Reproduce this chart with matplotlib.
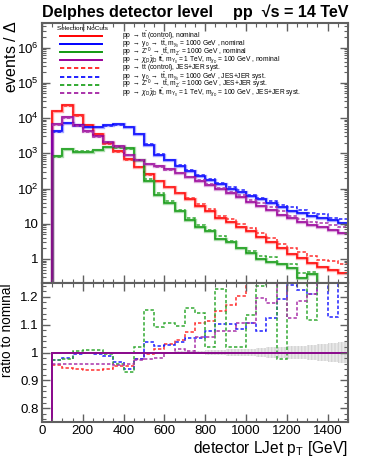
import numpy as np
import matplotlib
matplotlib.use("Agg")
import matplotlib.pyplot as plt
from matplotlib.ticker import MultipleLocator, FuncFormatter, LogLocator, NullFormatter

plt.rcParams['font.family'] = ['Liberation Sans', 'DejaVu Sans']
plt.rcParams['mathtext.fontset'] = 'custom'
plt.rcParams['mathtext.rm'] = 'Liberation Sans'
plt.rcParams['mathtext.it'] = 'Liberation Sans:italic'
plt.rcParams['mathtext.bf'] = 'Liberation Sans:bold'

# bin edges: 0 .. 1500 GeV, 50 GeV wide
edges = np.arange(0, 1501, 50)

# nominal histograms, log10(events) per bin (bin 0-50 is empty)
log_ttbar = [4.21, 4.375, 4.09, 3.81, 3.54, 3.30, 3.07, 2.83, 2.62, 2.40, 2.22, 2.03, 1.86, 1.70,
             1.51, 1.36, 1.17, 1.06, 0.90, 0.78, 0.62, 0.47, 0.30, 0.15, 0.02, -0.12, -0.22, -0.30, -0.40]
log_y0 = [3.62, 3.87, 3.79, 3.74, 3.76, 3.79, 3.82, 3.76, 3.55, 3.24, 2.96, 2.80, 2.64, 2.49,
          2.36, 2.24, 2.12, 1.99, 1.91, 1.78, 1.70, 1.59, 1.47, 1.37, 1.30, 1.21, 1.155, 1.11, 1.03]
log_zp = [2.92, 3.13, 3.05, 3.05, 3.09, 3.17, 3.18, 3.15, 2.81, 2.20, 1.82, 1.60, 1.35, 1.11,
          0.92, 0.80, 0.56, 0.49, 0.30, 0.17, 0.00, -0.08, -0.13, -0.27, -0.53, -0.43, -1.0, -1.0, -1.0]
log_dm = [3.83, 4.02, 3.79, 3.63, 3.48, 3.33, 3.20, 2.96, 2.82, 2.70, 2.63, 2.54, 2.44, 2.33,
          2.22, 2.10, 1.98, 1.88, 1.77, 1.63, 1.50, 1.40, 1.26, 1.16, 1.06, 0.97, 0.90, 0.82, 0.73]

# JES+JER syst / nominal (bins 50-1500)
r_ttbar = [0.954, 0.943, 0.939, 0.936, 0.937, 0.941, 0.953, 0.953, 0.976, 0.993, 1.013, 1.029, 1.046, 1.074,
           1.107, 1.115, 1.149, 1.172, 1.204, 1.28, 1.30, 1.35, 1.35, 1.45, 1.50, 1.55, 1.60, 1.70, 1.80]
r_y0 = [0.972, 0.981, 0.995, 0.999, 0.995, 0.989, 0.965, 0.941, 0.977, 1.037, 1.025, 1.028, 1.037, 1.053,
        1.053, 1.077, 1.103, 1.103, 1.085, 1.107, 1.076, 1.124, 1.191, 1.242, 1.225, 1.209, 1.30, 1.128, 1.30]
r_zp = [0.972, 0.975, 1.005, 1.008, 1.008, 0.993, 0.960, 0.929, 1.020, 1.153, 1.093, 1.107, 1.097, 1.161,
        1.143, 1.020, 1.227, 1.020, 1.020, 1.134, 1.240, 1.40, 0.975, 1.35, 1.35, 1.117, 1.40, 1.40, 1.25]
r_dm = [0.957, 0.959, 0.960, 0.959, 0.959, 0.958, 0.955, 0.957, 0.972, 0.975, 0.981, 0.999, 1.011, 1.007,
        1.055, 1.055, 1.077, 1.077, 1.107, 1.107, 1.197, 1.179, 1.30, 1.125, 1.185, 1.209, 1.30, 1.40, 1.50]

# statistical band half width on the ratio (bins 50-1500)
stat_err = [0.001] * 10 + [0.002, 0.003, 0.004, 0.005, 0.006, 0.008, 0.009, 0.011, 0.012, 0.014,
                           0.016, 0.018, 0.020, 0.022, 0.025, 0.028, 0.031, 0.034, 0.038]

names = ['t', 'y0', 'zp', 'dm']
colors = {'t': '#ff0000', 'y0': '#0000ff', 'zp': '#119911', 'dm': '#990099'}
dcolors = {'t': '#ff3030', 'y0': '#2020ff', 'zp': '#33aa33', 'dm': '#aa33aa'}
nominal = {'t': log_ttbar, 'y0': log_y0, 'zp': log_zp, 'dm': log_dm}
ratios = {'t': r_ttbar, 'y0': r_y0, 'zp': r_zp, 'dm': r_dm}

labels_nom = [
    r'pp $\rightarrow$ t$\bar{\rm t}$ (control), nominal',
    r'pp $\rightarrow$ y$_0$ $\rightarrow$ t$\bar{\rm t}$, m$_{\rm y_0}$ = 1000 GeV , nominal',
    r"pp $\rightarrow$ Z$'^{0}$ $\rightarrow$ t$\bar{\rm t}$, m$_{\rm Z'}$ = 1000 GeV , nominal",
    r'pp $\rightarrow$ $\chi_{\rm D}\bar{\chi}_{\rm D}$ t$\bar{\rm t}$, m$_{\rm Y_0}$ = 1 TeV, m$_{\chi_{\rm D}}$ = 100 GeV , nominal',
]
labels_sys = [
    r'pp $\rightarrow$ t$\bar{\rm t}$ (control), JES+JER syst.',
    r'pp $\rightarrow$ y$_0$ $\rightarrow$ t$\bar{\rm t}$, m$_{\rm y_0}$ = 1000 GeV , JES+JER syst.',
    r"pp $\rightarrow$ Z$'^{0}$ $\rightarrow$ t$\bar{\rm t}$, m$_{\rm Z'}$ = 1000 GeV , JES+JER syst.",
    r'pp $\rightarrow$ $\chi_{\rm D}\bar{\chi}_{\rm D}$ t$\bar{\rm t}$, m$_{\rm Y_0}$ = 1 TeV, m$_{\chi_{\rm D}}$ = 100 GeV , JES+JER syst.',
]

fig = plt.figure(figsize=(3.9, 4.73), dpi=100)
ax = fig.add_axes([0.1077, 0.4017, 0.7846, 0.5497])
axr = fig.add_axes([0.1077, 0.1078, 0.7846, 0.2939])

frame_col = '#606060'
dash = (0, (2.2, 1.4))

for k in names:
    nom = np.concatenate([[0.0], 10 ** np.array(nominal[k])])
    sysv = np.concatenate([[0.0], 10 ** np.array(nominal[k]) * np.array(ratios[k])])
    nom_c = np.clip(nom, 1e-3, None)
    ax.stairs(nom_c, edges, color=colors[k], lw=2.4, alpha=0.35, baseline=None)
    ax.stairs(nom_c, edges, color=colors[k], lw=1.1, baseline=None)
    ax.stairs(sysv[1:], edges[1:], color=dcolors[k], lw=1.1, ls=dash, baseline=None)

ax.set_yscale('log')
ax.set_xlim(0, 1500)
ax.set_ylim(0.208, 5.0e6)

def log_fmt(v, pos):
    if abs(v - 1) < 1e-6:
        return '1'
    if abs(v - 10) < 1e-5:
        return '10'
    return r'$10^{%d}$' % int(round(np.log10(v)))

ax.yaxis.set_major_locator(LogLocator(base=10, numticks=20))
ax.yaxis.set_minor_locator(LogLocator(base=10, subs=np.arange(2, 10), numticks=50))
ax.yaxis.set_major_formatter(FuncFormatter(log_fmt))
ax.yaxis.set_minor_formatter(NullFormatter())
ax.xaxis.set_major_locator(MultipleLocator(200))
ax.xaxis.set_minor_locator(MultipleLocator(50))
ax.set_xticklabels([])

# ratio panel
stat = np.array(stat_err)
axr.fill_between(edges[1:], np.append(1 - stat, 1 - stat[-1]), np.append(1 + stat, 1 + stat[-1]),
                 step='post', facecolor='#e8e8e8', edgecolor='#d4d4d4', hatch='|||||', lw=0)
for k in names:
    axr.stairs(ratios[k], edges[1:], color=dcolors[k], lw=1.1, ls=dash, baseline=None)
nom_ratio = np.concatenate([[0.0], np.ones(len(edges) - 2)])
for k in ['t', 'y0', 'zp', 'dm']:
    axr.stairs(nom_ratio, edges, color=colors[k], lw=1.3, baseline=None)

axr.set_xlim(0, 1500)
axr.set_ylim(0.75, 1.25)
axr.xaxis.set_major_locator(MultipleLocator(200))
axr.xaxis.set_minor_locator(MultipleLocator(50))
axr.yaxis.set_major_locator(MultipleLocator(0.1))
axr.yaxis.set_minor_locator(MultipleLocator(0.02))
axr.yaxis.set_major_formatter(FuncFormatter(lambda v, p: '%g' % round(v, 2)))

for a in (ax, axr):
    for s in a.spines.values():
        s.set_color(frame_col)
        s.set_linewidth(1.5)
    a.tick_params(which='both', direction='in', top=True, right=True, color=frame_col,
                  labelsize=9.5, pad=2.5)
    a.tick_params(which='major', length=6, width=1.0)
    a.tick_params(which='minor', length=3, width=0.8)

axr.set_xlabel(r'detector LJet p$_{\rm T}$ [GeV]', fontsize=11.2, ha='right', x=1.0, labelpad=1)
fig.text(0.027, 0.958, r'events / $\Delta$', rotation=90, ha='center', va='top', fontsize=11.5)
fig.text(0.017, 0.40, 'ratio to nominal', rotation=90, ha='center', va='top', fontsize=9.8)

fig.text(0.1077, 0.974, 'Delphes detector level', fontsize=11.6, fontweight='bold', va='center')
fig.text(0.597, 0.974, 'pp  \u221as = 14 TeV', fontsize=11.6, fontweight='bold', va='center')

# legend
ax.text(0.049, 0.977, 'Selection: NoCuts', transform=ax.transAxes, fontsize=4.6, va='center')
row_y = [36, 44, 52.3, 60.3, 68.3, 76.7, 84.7, 92.7]
entries = [(colors[k], '-', labels_nom[i]) for i, k in enumerate(names)] + \
          [(dcolors[k], dash, labels_sys[i]) for i, k in enumerate(names)]
for yp, (c, ls, lab) in zip(row_y, entries):
    yy = (283 - yp) / 260.0
    ax.plot([0.0588, 0.196], [yy, yy], transform=ax.transAxes, color=c, ls=ls, lw=1.4)
    ax.text(0.261, yy, lab, transform=ax.transAxes, fontsize=4.8, va='center')

fig.savefig('out.png', dpi=100)
